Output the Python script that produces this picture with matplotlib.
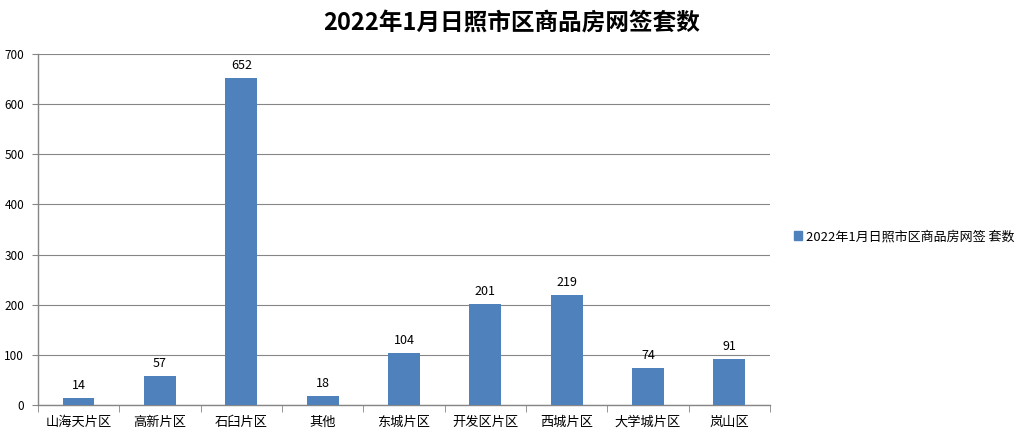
import numpy as np
import matplotlib.pyplot as plt
from matplotlib.patches import Patch

plt.rcParams['font.family'] = ['Noto Sans CJK SC', 'DejaVu Sans']

districts = ['山海天片区', '高新片区', '石臼片区', '其他', '东城片区',
             '开发区片区', '西城片区', '大学城片区', '岚山区']
sales = [14, 57, 652, 18, 104, 201, 219, 74, 91]
series_name = '2022年1月日照市区商品房网签 套数'
title = '2022年1月日照市区商品房网签套数'

bar_color = '#4F81BD'
grid_color = '#868686'

fig = plt.figure(figsize=(10.23, 4.38), dpi=100)
ax = fig.add_axes([0.0371, 0.0753, 0.7156, 0.8014])

x = np.arange(len(districts))
bars = ax.bar(x, sales, width=0.39, color=bar_color, zorder=3)
for xi, v in zip(x, sales):
    ax.text(xi, v + 12, str(v), ha='center', va='bottom', fontsize=9)

ax.set_xlim(-0.5, len(districts) - 0.5)
ax.set_ylim(0, 700)
ax.set_yticks(range(0, 701, 100))
ax.yaxis.grid(True, color=grid_color, linewidth=0.8, zorder=0)
ax.tick_params(axis='y', length=4, color=grid_color, labelsize=8.5, pad=6)

ax.set_xticks(x)
ax.set_xticklabels(districts, fontsize=9.5)
ax.tick_params(axis='x', length=0, pad=8)
ax.set_xticks(np.arange(-0.5, len(districts)), minor=True)
ax.tick_params(axis='x', which='minor', length=5, color=grid_color)

for s in ['top', 'right']:
    ax.spines[s].set_visible(False)
for s in ['left', 'bottom']:
    ax.spines[s].set_color(grid_color)
    ax.spines[s].set_linewidth(1.0)

fig.text(0.5, 0.948, title, ha='center', va='center', fontsize=17, fontweight='bold')

fig.legend(handles=[Patch(color=bar_color, label=series_name)],
           loc='center left', bbox_to_anchor=(0.765, 0.46), frameon=False,
           fontsize=9.4, handlelength=0.6, handleheight=0.6, handletextpad=0.3)

fig.savefig('out.png', dpi=100)
